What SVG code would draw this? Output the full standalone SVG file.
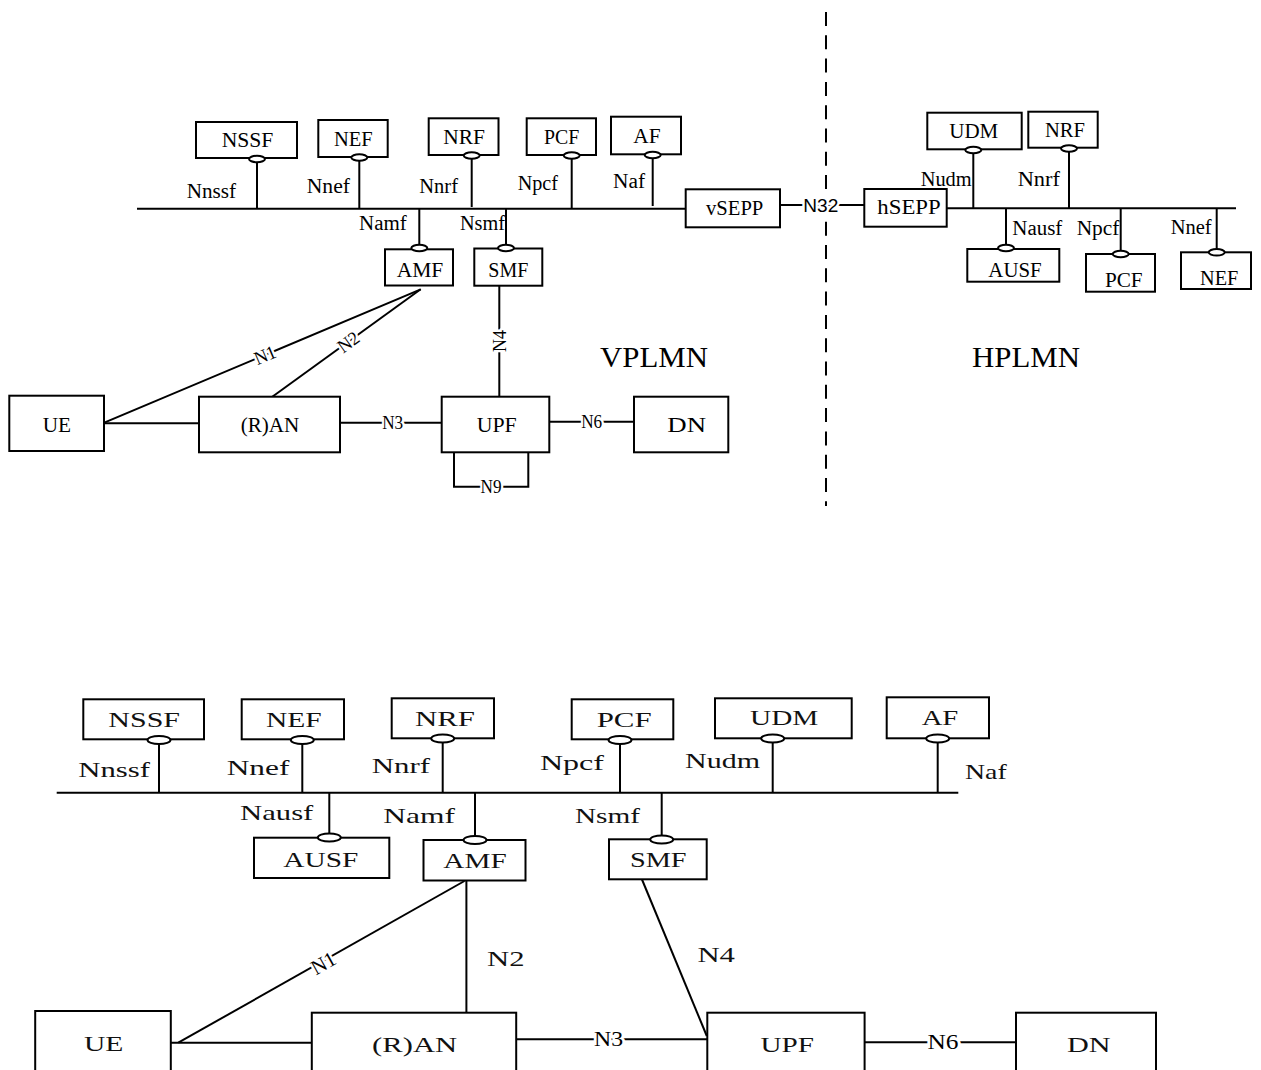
<svg xmlns="http://www.w3.org/2000/svg" width="1261" height="1070" viewBox="0 0 1261 1070">
  <style>
    .box { fill: #fff; stroke: #000; stroke-width: 2; }
    .port { fill: #fff; stroke: #000; stroke-width: 2; }
    .ln { fill: none; stroke: #000; stroke-width: 2; }
    .dash { fill: none; stroke: #000; stroke-width: 2; stroke-dasharray: 14 9.3; }
    text { font-family: "Liberation Serif", "Times New Roman", serif; fill: #000; }
    .t { font-size: 21px; text-anchor: middle; }
    .s { font-size: 20px; }
    .c { font-size: 19px; text-anchor: middle; stroke: #fff; stroke-width: 5; paint-order: stroke; stroke-linejoin: round; }
    .big { font-size: 30px; text-anchor: middle; }
    .t2 { font-size: 22px; text-anchor: middle; fill: #111; }
    .s2 { font-size: 22px; fill: #111; }
    .c2 { font-size: 21px; text-anchor: middle; stroke: #fff; stroke-width: 5; paint-order: stroke; stroke-linejoin: round; }
    .sans { font-family: "Liberation Sans", Arial, sans-serif; font-size: 19px; }
  </style>

  <rect width="1261" height="1070" fill="#fff"/>

  <!-- ===== Roaming architecture (upper) ===== -->
  <g id="connectors-roaming">
    <!-- service bus, visited network -->
    <line class="ln" x1="137" y1="208.7" x2="686" y2="208.7"/>
    <line class="ln" x1="257" y1="159" x2="257" y2="209"/>
    <line class="ln" x1="359.3" y1="158" x2="359.3" y2="209"/>
    <line class="ln" x1="471.7" y1="156" x2="471.7" y2="207"/>
    <line class="ln" x1="571.7" y1="155.5" x2="571.7" y2="209"/>
    <line class="ln" x1="652.7" y1="155" x2="652.7" y2="206"/>
    <line class="ln" x1="419.3" y1="208.7" x2="419.3" y2="248"/>
    <line class="ln" x1="506" y1="208.7" x2="506" y2="248"/>
    <!-- service bus, home network -->
    <line class="ln" x1="947" y1="208.3" x2="1236" y2="208.3"/>
    <line class="ln" x1="973.3" y1="150" x2="973.3" y2="208.3"/>
    <line class="ln" x1="1069" y1="148.5" x2="1069" y2="208.3"/>
    <line class="ln" x1="1006" y1="208.3" x2="1006" y2="248"/>
    <line class="ln" x1="1120.7" y1="208.3" x2="1120.7" y2="254"/>
    <line class="ln" x1="1216.7" y1="208.3" x2="1216.7" y2="252.3"/>
    <!-- N32 between SEPPs -->
    <line class="ln" x1="780" y1="205" x2="864" y2="205"/>
    <!-- reference points -->
    <line class="ln" x1="420.7" y1="289.3" x2="104.3" y2="422.7"/>
    <line class="ln" x1="420.7" y1="289.3" x2="272.3" y2="396.7"/>
    <line class="ln" x1="104" y1="423.3" x2="199" y2="423.3"/>
    <line class="ln" x1="340" y1="422.7" x2="442" y2="422.7"/>
    <line class="ln" x1="499.3" y1="285.7" x2="499.3" y2="397"/>
    <line class="ln" x1="549" y1="421.7" x2="634" y2="421.7"/>
    <path class="ln" d="M454,452.3 V486.7 H528.3 V452.3"/>
    <!-- PLMN boundary -->
    <line class="dash" x1="826" y1="12" x2="826" y2="506"/>

    <!-- interface labels -->
    <text class="s" x="186.7" y="198.3" textLength="49.3" lengthAdjust="spacingAndGlyphs">Nnssf</text>
    <text class="s" x="306.7" y="192.7" textLength="43.3" lengthAdjust="spacingAndGlyphs">Nnef</text>
    <text class="s" x="419.3" y="193" textLength="38.7" lengthAdjust="spacingAndGlyphs">Nnrf</text>
    <text class="s" x="517.7" y="190" textLength="40.3" lengthAdjust="spacingAndGlyphs">Npcf</text>
    <text class="s" x="613" y="188" textLength="32" lengthAdjust="spacingAndGlyphs">Naf</text>
    <text class="s" x="359" y="230" textLength="47.7" lengthAdjust="spacingAndGlyphs">Namf</text>
    <text class="s" x="460" y="230" textLength="45" lengthAdjust="spacingAndGlyphs">Nsmf</text>
    <text class="s" x="920.7" y="186" textLength="51" lengthAdjust="spacingAndGlyphs">Nudm</text>
    <text class="s" x="1017.7" y="186" textLength="42.3" lengthAdjust="spacingAndGlyphs">Nnrf</text>
    <text class="s" x="1012.3" y="235" textLength="50" lengthAdjust="spacingAndGlyphs">Nausf</text>
    <text class="s" x="1076.7" y="235" textLength="42.7" lengthAdjust="spacingAndGlyphs">Npcf</text>
    <text class="s" x="1170.7" y="234.3" textLength="41" lengthAdjust="spacingAndGlyphs">Nnef</text>

    <!-- reference point labels -->
    <text class="sans" x="820.8" y="211.7" text-anchor="middle" stroke="#fff" stroke-width="5" paint-order="stroke" textLength="35" lengthAdjust="spacingAndGlyphs">N32</text>
    <text class="c" transform="translate(265,355) rotate(-22.9)" x="0" y="6.5" textLength="22" lengthAdjust="spacingAndGlyphs">N1</text>
    <text class="c" transform="translate(348.3,342) rotate(-35.7)" x="0" y="6.5" textLength="22" lengthAdjust="spacingAndGlyphs">N2</text>
    <text class="c" transform="translate(499.3,341) rotate(-90)" x="0" y="6.5" textLength="22" lengthAdjust="spacingAndGlyphs">N4</text>
    <text class="c" x="392.7" y="429.2" textLength="21" lengthAdjust="spacingAndGlyphs">N3</text>
    <text class="c" x="591.7" y="428.2" textLength="21" lengthAdjust="spacingAndGlyphs">N6</text>
    <text class="c" x="491" y="493.2" textLength="21" lengthAdjust="spacingAndGlyphs">N9</text>

    <text class="big" x="654" y="366.7" textLength="108" lengthAdjust="spacingAndGlyphs">VPLMN</text>
    <text class="big" x="1026" y="367" textLength="108" lengthAdjust="spacingAndGlyphs">HPLMN</text>
  </g>

  <g id="v-nssf"><rect class="box" x="196" y="122" width="101" height="36"/><ellipse class="port" cx="257" cy="159" rx="8" ry="3.2"/><text class="t" x="247.5" y="147" textLength="51.7" lengthAdjust="spacingAndGlyphs">NSSF</text></g>
  <g id="v-nef"><rect class="box" x="318.3" y="120" width="69.4" height="37"/><ellipse class="port" cx="359.3" cy="157.5" rx="8" ry="3.2"/><text class="t" x="353.3" y="146" textLength="38.7" lengthAdjust="spacingAndGlyphs">NEF</text></g>
  <g id="v-nrf"><rect class="box" x="428.7" y="118.3" width="69.8" height="36.7"/><ellipse class="port" cx="471.7" cy="155.5" rx="8" ry="3.2"/><text class="t" x="464.2" y="144" textLength="41.7" lengthAdjust="spacingAndGlyphs">NRF</text></g>
  <g id="v-pcf"><rect class="box" x="526.7" y="118.3" width="69.3" height="36.7"/><ellipse class="port" cx="571.7" cy="155.5" rx="8" ry="3.2"/><text class="t" x="561.7" y="144" textLength="35.3" lengthAdjust="spacingAndGlyphs">PCF</text></g>
  <g id="v-af"><rect class="box" x="611" y="116.7" width="70" height="37.6"/><ellipse class="port" cx="652.7" cy="155" rx="8" ry="3.2"/><text class="t" x="647" y="143.3" textLength="27.3" lengthAdjust="spacingAndGlyphs">AF</text></g>
  <g id="v-sepp"><rect class="box" x="685.7" y="189.3" width="94.3" height="38"/><text class="t" x="734.7" y="215" textLength="57.3" lengthAdjust="spacingAndGlyphs">vSEPP</text></g>
  <g id="v-amf"><rect class="box" x="385" y="249.3" width="68" height="36.2"/><ellipse class="port" cx="419.3" cy="248" rx="8" ry="3.2"/><text class="t" x="420" y="276.7" textLength="46.7" lengthAdjust="spacingAndGlyphs">AMF</text></g>
  <g id="v-smf"><rect class="box" x="474.3" y="248.5" width="68" height="37.2"/><ellipse class="port" cx="506" cy="248" rx="8" ry="3.2"/><text class="t" x="508.3" y="276.7" textLength="40" lengthAdjust="spacingAndGlyphs">SMF</text></g>
  <g id="h-udm"><rect class="box" x="927.3" y="112.7" width="94.4" height="36.6"/><ellipse class="port" cx="973.3" cy="150" rx="8" ry="3.2"/><text class="t" x="973.8" y="138.3" textLength="49" lengthAdjust="spacingAndGlyphs">UDM</text></g>
  <g id="h-nrf"><rect class="box" x="1028.3" y="111.7" width="69.4" height="36"/><ellipse class="port" cx="1069" cy="148.5" rx="8" ry="3.2"/><text class="t" x="1065" y="136.7" textLength="40" lengthAdjust="spacingAndGlyphs">NRF</text></g>
  <g id="h-sepp"><rect class="box" x="864.3" y="189" width="82.4" height="37.7"/><text class="t" x="909" y="214" textLength="63.3" lengthAdjust="spacingAndGlyphs">hSEPP</text></g>
  <g id="h-ausf"><rect class="box" x="967.3" y="249" width="92" height="32.7"/><ellipse class="port" cx="1006" cy="248" rx="8" ry="3.2"/><text class="t" x="1015" y="276.7" textLength="53.3" lengthAdjust="spacingAndGlyphs">AUSF</text></g>
  <g id="h-pcf"><rect class="box" x="1086" y="254" width="69" height="37.7"/><ellipse class="port" cx="1120.7" cy="254" rx="8" ry="3.2"/><text class="t" x="1123.8" y="286.7" textLength="37.7" lengthAdjust="spacingAndGlyphs">PCF</text></g>
  <g id="h-nef"><rect class="box" x="1181" y="252.3" width="70" height="36.7"/><ellipse class="port" cx="1216.7" cy="252.3" rx="8" ry="3.2"/><text class="t" x="1219.2" y="285" textLength="38.3" lengthAdjust="spacingAndGlyphs">NEF</text></g>
  <g id="v-ue"><rect class="box" x="9.3" y="395.7" width="94.7" height="55.3"/><text class="t" x="56.8" y="431.7" textLength="28.3" lengthAdjust="spacingAndGlyphs">UE</text></g>
  <g id="v-ran"><rect class="box" x="199" y="396.7" width="141" height="55.6"/><text class="t" x="270" y="432" textLength="58.7" lengthAdjust="spacingAndGlyphs">(R)AN</text></g>
  <g id="v-upf"><rect class="box" x="441.7" y="396.7" width="107.6" height="55.6"/><text class="t" x="496.7" y="431.7" textLength="40" lengthAdjust="spacingAndGlyphs">UPF</text></g>
  <g id="v-dn"><rect class="box" x="634" y="396.7" width="94.3" height="55.6"/><text class="t" x="686.7" y="431.7" textLength="38.7" lengthAdjust="spacingAndGlyphs">DN</text></g>

  <!-- ===== Non-roaming architecture (lower) ===== -->
  <g id="connectors-nonroaming">
    <line class="ln" x1="56.7" y1="792.7" x2="958.3" y2="792.7"/>
    <line class="ln" x1="159" y1="740" x2="159" y2="792.7"/>
    <line class="ln" x1="302.3" y1="740" x2="302.3" y2="792.7"/>
    <line class="ln" x1="442.7" y1="738.5" x2="442.7" y2="792.7"/>
    <line class="ln" x1="620" y1="740" x2="620" y2="792.7"/>
    <line class="ln" x1="772.7" y1="738.5" x2="772.7" y2="792.7"/>
    <line class="ln" x1="937.7" y1="738.5" x2="937.7" y2="792.7"/>
    <line class="ln" x1="329.3" y1="792.7" x2="329.3" y2="837.5"/>
    <line class="ln" x1="475" y1="792.7" x2="475" y2="840"/>
    <line class="ln" x1="661.7" y1="792.7" x2="661.7" y2="839.5"/>
    <!-- reference points -->
    <line class="ln" x1="464.5" y1="881" x2="178.3" y2="1042.7"/>
    <line class="ln" x1="466.4" y1="880.5" x2="466.4" y2="1012.7"/>
    <line class="ln" x1="170.8" y1="1042.7" x2="311.8" y2="1042.7"/>
    <line class="ln" x1="516.2" y1="1039.3" x2="707" y2="1039.3"/>
    <line class="ln" x1="642" y1="879.5" x2="706.8" y2="1036"/>
    <line class="ln" x1="864.6" y1="1042.3" x2="1016" y2="1042.3"/>

    <text class="s2" x="78.3" y="776.7" textLength="71.7" lengthAdjust="spacingAndGlyphs">Nnssf</text>
    <text class="s2" x="226.7" y="775" textLength="62.7" lengthAdjust="spacingAndGlyphs">Nnef</text>
    <text class="s2" x="371.7" y="773.3" textLength="58.3" lengthAdjust="spacingAndGlyphs">Nnrf</text>
    <text class="s2" x="540" y="770" textLength="64" lengthAdjust="spacingAndGlyphs">Npcf</text>
    <text class="s2" x="685" y="768.3" textLength="75" lengthAdjust="spacingAndGlyphs">Nudm</text>
    <text class="s2" x="965" y="779.3" textLength="41.7" lengthAdjust="spacingAndGlyphs">Naf</text>
    <text class="s2" x="240" y="820" textLength="73.3" lengthAdjust="spacingAndGlyphs">Nausf</text>
    <text class="s2" x="383.3" y="823.3" textLength="71.7" lengthAdjust="spacingAndGlyphs">Namf</text>
    <text class="s2" x="575" y="823.3" textLength="65" lengthAdjust="spacingAndGlyphs">Nsmf</text>

    <text class="c2" transform="translate(323.4,963.3) rotate(-29.4)" x="0" y="7" textLength="25" lengthAdjust="spacingAndGlyphs">N1</text>
    <text class="s2" x="487" y="966" textLength="37.5" lengthAdjust="spacingAndGlyphs">N2</text>
    <text class="s2" x="697.4" y="961.7" textLength="37.6" lengthAdjust="spacingAndGlyphs">N4</text>
    <text class="c2" x="608.6" y="1046.3" textLength="29" lengthAdjust="spacingAndGlyphs">N3</text>
    <text class="c2" x="943" y="1049.3" textLength="31" lengthAdjust="spacingAndGlyphs">N6</text>
  </g>

  <g id="nssf"><rect class="box" x="83.3" y="699.3" width="120.7" height="40"/><ellipse class="port" cx="159" cy="740" rx="11.5" ry="4"/><text class="t2" x="144.2" y="726.7" textLength="71.7" lengthAdjust="spacingAndGlyphs">NSSF</text></g>
  <g id="nef"><rect class="box" x="241.7" y="699.3" width="102.3" height="40"/><ellipse class="port" cx="302.3" cy="740" rx="11.5" ry="4"/><text class="t2" x="293.8" y="726.7" textLength="55.7" lengthAdjust="spacingAndGlyphs">NEF</text></g>
  <g id="nrf"><rect class="box" x="391.7" y="698.3" width="102.3" height="40"/><ellipse class="port" cx="442.7" cy="738.5" rx="11.5" ry="4"/><text class="t2" x="445" y="726" textLength="60" lengthAdjust="spacingAndGlyphs">NRF</text></g>
  <g id="pcf"><rect class="box" x="571.7" y="699.3" width="101.6" height="40"/><ellipse class="port" cx="620" cy="740" rx="11.5" ry="4"/><text class="t2" x="624.2" y="726.7" textLength="55" lengthAdjust="spacingAndGlyphs">PCF</text></g>
  <g id="udm"><rect class="box" x="715" y="698.3" width="136.7" height="40"/><ellipse class="port" cx="772.7" cy="738.5" rx="11.5" ry="4"/><text class="t2" x="784.2" y="725" textLength="68.3" lengthAdjust="spacingAndGlyphs">UDM</text></g>
  <g id="af"><rect class="box" x="886.7" y="697.3" width="102.3" height="41"/><ellipse class="port" cx="937.7" cy="738.5" rx="11.5" ry="4"/><text class="t2" x="940" y="725" textLength="36.7" lengthAdjust="spacingAndGlyphs">AF</text></g>
  <g id="ausf"><rect class="box" x="254" y="837.7" width="135.3" height="40.3"/><ellipse class="port" cx="329.3" cy="837.5" rx="11.5" ry="4"/><text class="t2" x="320.8" y="866.7" textLength="75" lengthAdjust="spacingAndGlyphs">AUSF</text></g>
  <g id="amf"><rect class="box" x="423.5" y="840" width="102" height="40.5"/><ellipse class="port" cx="475" cy="840" rx="11.5" ry="4"/><text class="t2" x="475" y="868.3" textLength="63.3" lengthAdjust="spacingAndGlyphs">AMF</text></g>
  <g id="smf"><rect class="box" x="609" y="839.3" width="97.7" height="40"/><ellipse class="port" cx="661.7" cy="839.5" rx="11.5" ry="4"/><text class="t2" x="658.3" y="866.7" textLength="56.7" lengthAdjust="spacingAndGlyphs">SMF</text></g>
  <g id="ue"><rect class="box" x="35.2" y="1011" width="135.6" height="80"/><text class="t2" x="103.6" y="1050.7" textLength="39.4" lengthAdjust="spacingAndGlyphs">UE</text></g>
  <g id="ran"><rect class="box" x="311.8" y="1012.7" width="204.4" height="80"/><text class="t2" x="414.6" y="1051.7" textLength="85" lengthAdjust="spacingAndGlyphs">(R)AN</text></g>
  <g id="upf"><rect class="box" x="707.3" y="1012.7" width="157.3" height="80"/><text class="t2" x="787.3" y="1051.7" textLength="53.5" lengthAdjust="spacingAndGlyphs">UPF</text></g>
  <g id="dn"><rect class="box" x="1016" y="1012.7" width="140" height="80"/><text class="t2" x="1088.7" y="1051.7" textLength="43.6" lengthAdjust="spacingAndGlyphs">DN</text></g>
</svg>
